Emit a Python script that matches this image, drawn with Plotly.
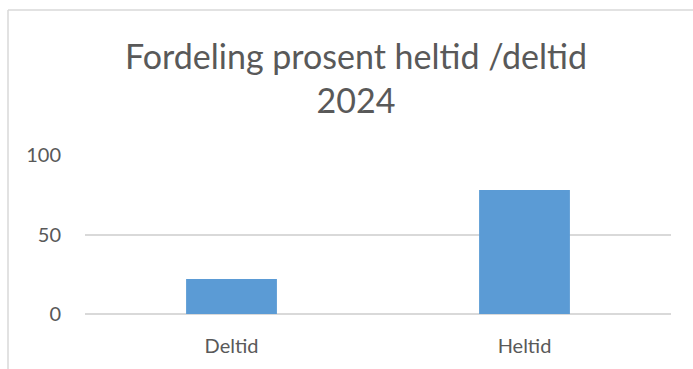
import plotly.graph_objects as go

categories = ["Deltid", "Heltid"]
values = [22, 78]
tick_vals = [0, 50, 100]
title_text = "Fordeling prosent heltid /deltid<br>2024"

W, H = 693, 369
L, R, T, B = 85, 22, 155, 55
pw, ph = W - L - R, H - T - B

def px_x(x):
    return (x - L) / pw

def px_y(y):
    return 1 - (y - T) / ph

fig = go.Figure(go.Bar(x=categories, y=values, marker=dict(color="#5B9BD5", line=dict(width=0))))

fig.update_layout(
    width=W, height=H,
    margin=dict(l=L, r=R, t=T, b=B, autoexpand=False),
    paper_bgcolor="white", plot_bgcolor="white",
    bargap=0.69,
    showlegend=False,
    font=dict(family="Lato", color="#595959", size=20),
    xaxis=dict(showgrid=False, showline=False, ticks="", tickfont=dict(family="Lato", size=20, color="#595959")),
    yaxis=dict(range=[0, 100], tickvals=tick_vals, showgrid=True, gridcolor="#D9D9D9", gridwidth=1.5,
               zeroline=True, zerolinecolor="#D9D9D9", zerolinewidth=1.5, showline=False, ticks="",
               tickfont=dict(family="Lato", size=20, color="#595959")),
    annotations=[dict(text=title_text, x=px_x(356), y=px_y(78), xref="paper", yref="paper",
                      xanchor="center", yanchor="middle", showarrow=False,
                      font=dict(family="Lato", size=34, color="#595959"))],
    shapes=[
        dict(type="line", xref="paper", yref="paper", x0=px_x(8), x1=px_x(693), y0=px_y(10), y1=px_y(10),
             line=dict(color="#D9D9D9", width=1.5)),
        dict(type="line", xref="paper", yref="paper", x0=px_x(8), x1=px_x(8), y0=px_y(10), y1=px_y(369),
             line=dict(color="#D9D9D9", width=1.5)),
    ],
)
fig.update_yaxes(ticklabelstandoff=23)
fig.update_xaxes(ticklabelstandoff=18)

fig.write_html("out.html")
